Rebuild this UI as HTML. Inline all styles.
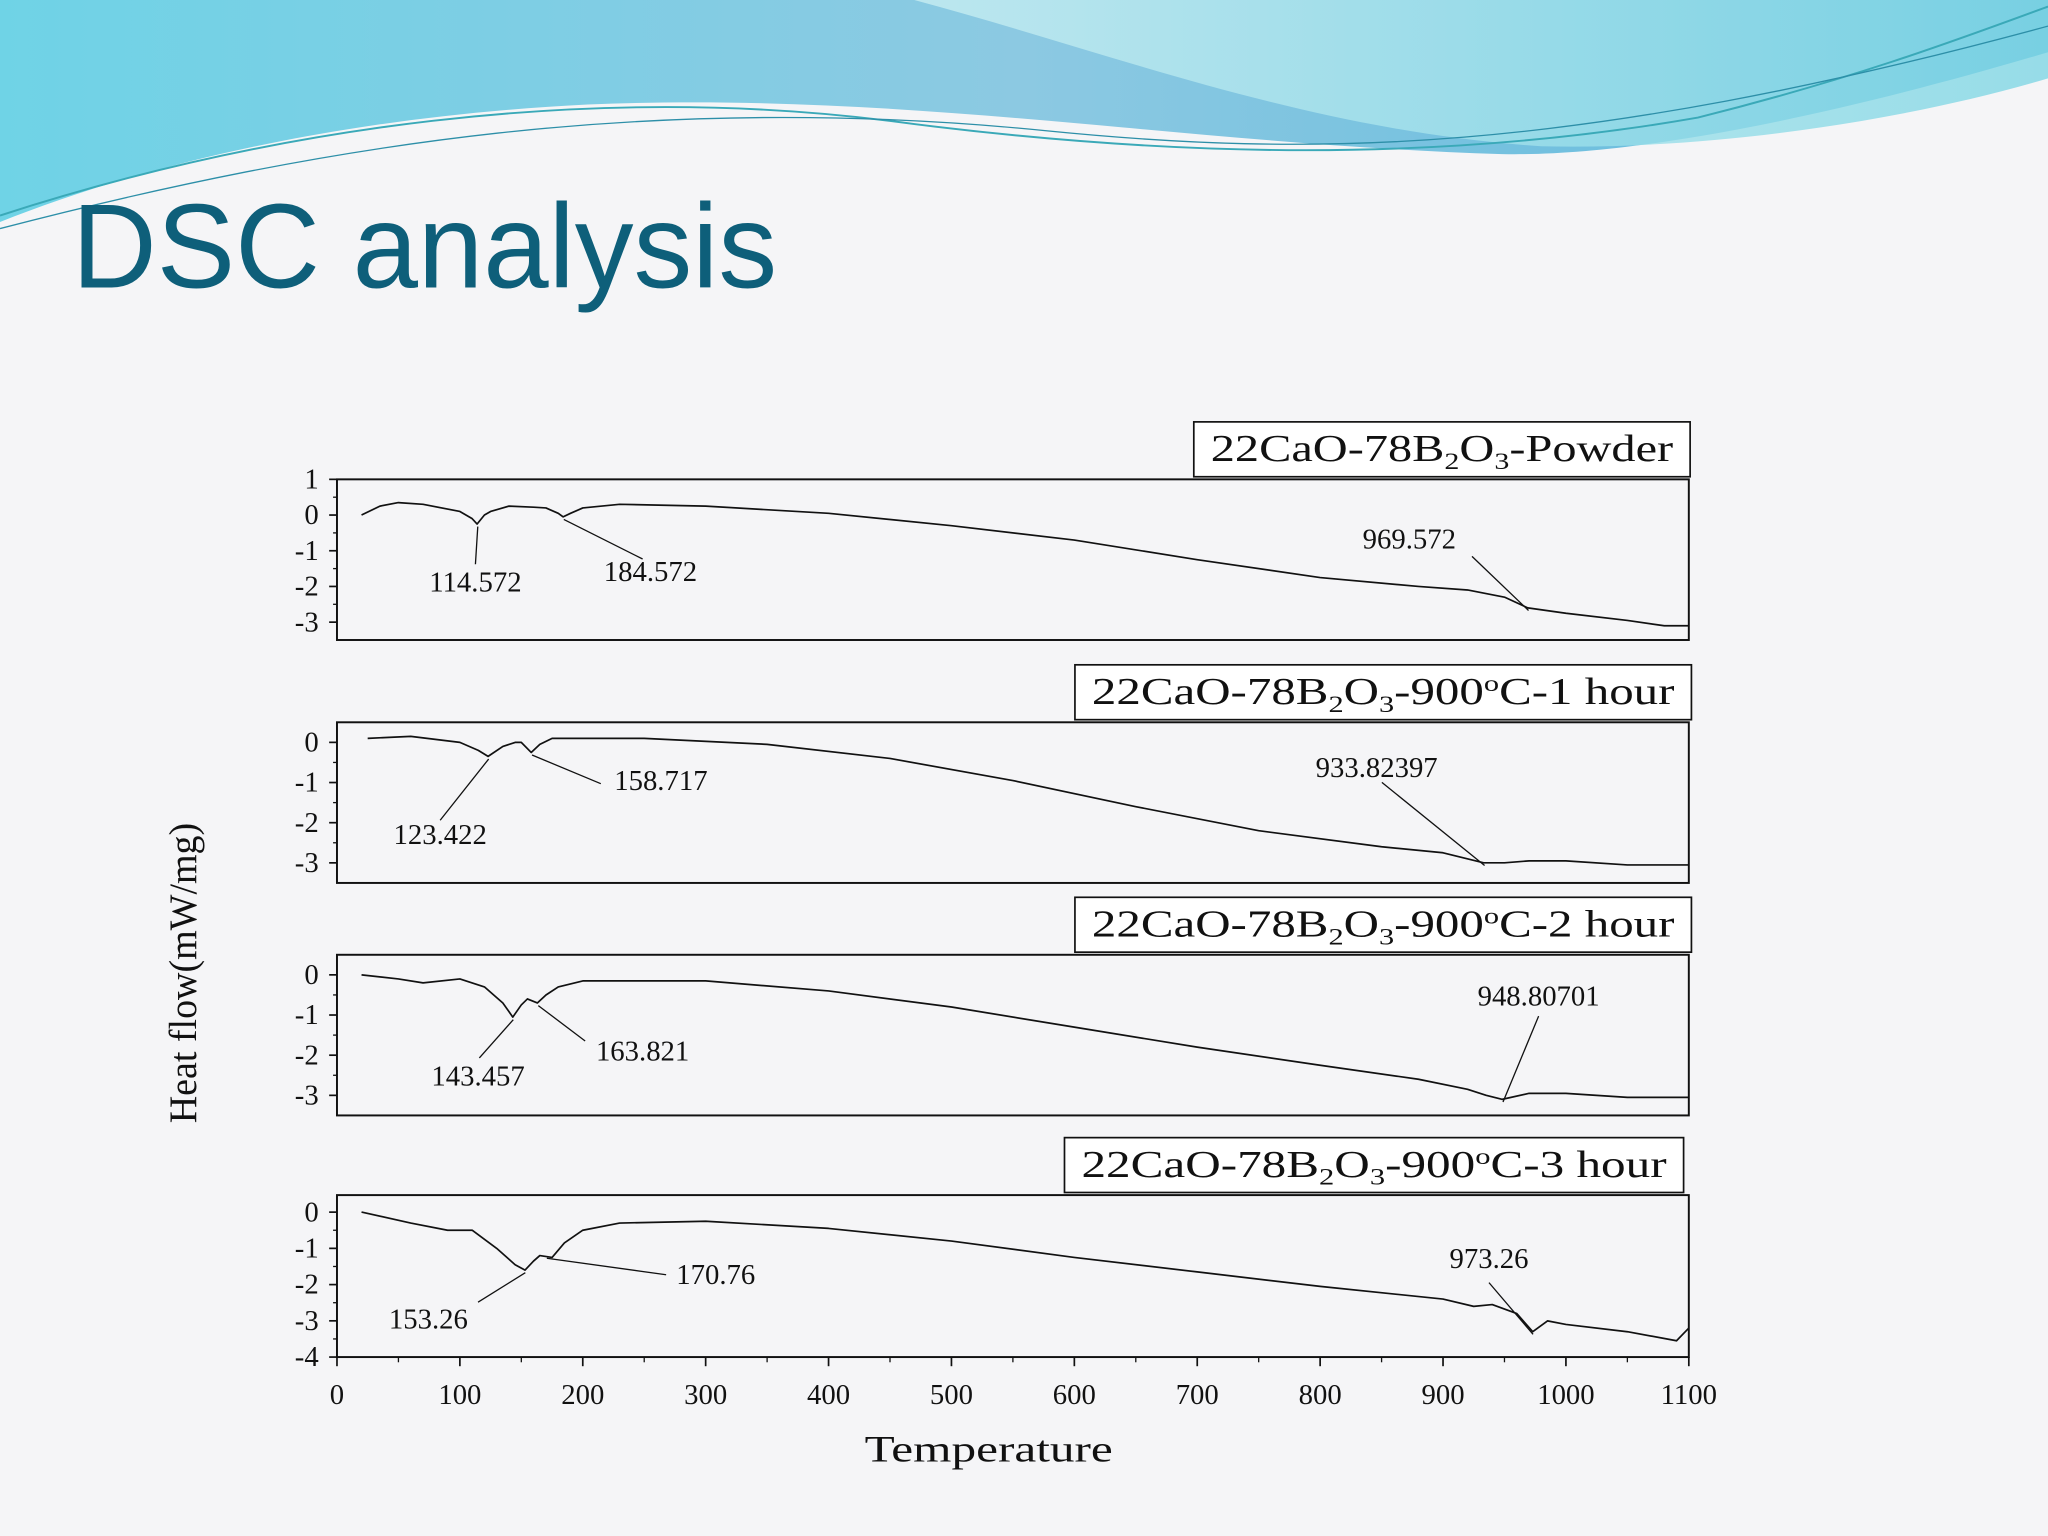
<!DOCTYPE html>
<html><head><meta charset="utf-8"><style>
html,body{margin:0;padding:0;background:#f5f5f7;}
svg{display:block}
text{font-family:"Liberation Serif",serif;fill:#111}
</style></head><body>
<svg id="root" width="2048" height="1536" viewBox="0 0 1568 1176" xmlns="http://www.w3.org/2000/svg">
<defs>
<linearGradient id="wg" x1="0" y1="0" x2="1" y2="0">
<stop offset="0" stop-color="#6fd3e6"/><stop offset="0.5" stop-color="#8cc9e2"/><stop offset="1" stop-color="#5bb8dc"/>
</linearGradient>
<linearGradient id="wg2" x1="0" y1="0" x2="1" y2="0">
<stop offset="0" stop-color="#c8eef2"/><stop offset="1" stop-color="#7fd6e4"/>
</linearGradient>
</defs>
<rect width="1568" height="1176" fill="#f5f5f7"/>
<g>
<path d="M0 0 H1568 V40 C1400 90 1250 120 1150 118 C900 110 700 70 450 80 C250 90 100 130 0 170 Z" fill="url(#wg)"/>
<path d="M700 0 H1568 V60 C1450 95 1300 115 1180 112 C1000 100 850 40 700 0 Z" fill="url(#wg2)" opacity="0.8"/>
<path d="M0 165 C200 100 450 60 700 95 C900 120 1100 125 1300 90 C1420 60 1500 30 1568 5" stroke="#3aa9b8" stroke-width="1.5" fill="none"/>
<path d="M0 175 C250 110 500 70 800 100 C1000 120 1200 120 1568 20" stroke="#2d8fa8" stroke-width="1" fill="none"/>
</g>
<text x="55" y="220" font-size="92" textLength="540" lengthAdjust="spacingAndGlyphs" style="font-family:'Liberation Sans',sans-serif;fill:#0e5f7a">DSC analysis</text>
<g id="chart"></g>
<text transform="translate(150,745) rotate(-90)" text-anchor="middle" font-size="30" textLength="230" lengthAdjust="spacingAndGlyphs">Heat flow(mW/mg)</text>
<text x="757" y="1119" text-anchor="middle" font-size="28" textLength="190" lengthAdjust="spacingAndGlyphs">Temperature</text>
</svg>
<script>
const xTicks=[0,100,200,300,400,500,600,700,800,900,1000,1100];
const p1T=[20,35,50,70,100,110,114,120,125,140,160,170,180,184,190,200,230,300,400,500,600,700,800,880,920,950,969,1000,1050,1080,1100];
const p1V=[0,0.25,0.35,0.3,0.1,-0.1,-0.25,0,0.1,0.25,0.22,0.2,0.05,-0.05,0.05,0.2,0.3,0.25,0.05,-0.3,-0.7,-1.25,-1.75,-2.0,-2.1,-2.3,-2.6,-2.75,-2.95,-3.1,-3.1];
const p2T=[25,60,100,115,123,135,145,150,158,165,175,250,350,450,550,650,750,850,900,933,950,970,1000,1050,1100];
const p2V=[0.1,0.15,0,-0.2,-0.35,-0.1,0,0,-0.25,-0.05,0.1,0.1,-0.05,-0.4,-0.95,-1.6,-2.2,-2.6,-2.75,-3.0,-3.0,-2.95,-2.95,-3.05,-3.05];
const p3T=[20,50,70,100,120,135,143,150,155,163,170,180,200,300,400,500,600,700,800,880,920,935,948,970,1000,1050,1100];
const p3V=[0,-0.1,-0.2,-0.1,-0.3,-0.7,-1.05,-0.75,-0.6,-0.7,-0.5,-0.3,-0.15,-0.15,-0.4,-0.8,-1.3,-1.8,-2.25,-2.6,-2.85,-3.0,-3.1,-2.95,-2.95,-3.05,-3.05];
const p4T=[20,60,90,110,130,145,153,160,165,175,185,200,230,300,400,500,600,700,800,900,925,940,960,973,985,1000,1050,1090,1100];
const p4V=[0,-0.3,-0.5,-0.5,-1.0,-1.45,-1.6,-1.35,-1.2,-1.25,-0.85,-0.5,-0.3,-0.25,-0.45,-0.8,-1.25,-1.65,-2.05,-2.4,-2.6,-2.55,-2.8,-3.3,-3.0,-3.1,-3.3,-3.55,-3.2];
const yTicks1=[1,0,-1,-2,-3];const yTicks2=[0,-1,-2,-3];const yTicks4=[0,-1,-2,-3,-4];
const NS="http://www.w3.org/2000/svg";
const g=document.getElementById('chart');
const X0=258,X1=1293;
const xs=t=>X0+(t-0)*(X1-X0)/1100;
function mk(tag,attrs,parent){const e=document.createElementNS(NS,tag);for(const k in attrs)e.setAttribute(k,attrs[k]);(parent||g).appendChild(e);return e;}
const panels=[
{top:367,bot:490,vmax:1,vmin:-3.5,T:p1T,V:p1V,ticks:yTicks1,title:'Powder',bx:914,bw:380,
 ann:[[114.572,-0.25,364,432,364,453,'114.572'],[184.572,-0.05,492,428,498,445,'184.572'],[969.572,-2.6,1127,426,1079,420,'969.572']]},
{top:553,bot:676,vmax:0.5,vmin:-3.5,T:p2T,V:p2V,ticks:yTicks2,title:'-900°C-1 hour',bx:823,bw:472,
 ann:[[123.422,-0.35,337,628,337,646,'123.422'],[158.717,-0.25,460,600,506,605,'158.717'],[933.82,-3.0,1058,599,1054,595,'933.82397']]},
{top:731,bot:854,vmax:0.5,vmin:-3.5,T:p3T,V:p3V,ticks:yTicks2,title:'-900°C-2 hour',bx:823,bw:472,
 ann:[[143.457,-1.05,367,810,366,831,'143.457'],[163.821,-0.7,448,797,492,812,'163.821'],[948.8,-3.1,1178,778,1178,770,'948.80701']]},
{top:915,bot:1039,vmax:0.47,vmin:-4,T:p4T,V:p4V,ticks:yTicks4,title:'-900°C-3 hour',bx:815,bw:474,
 ann:[[153.26,-1.6,366,997,328,1017,'153.26'],[170.76,-1.2,510,976,548,983,'170.76'],[973.26,-3.3,1140,982,1140,971,'973.26']]}
];
panels.forEach((p,i)=>{
 const ys=v=>p.top+(p.vmax-v)*(p.bot-p.top)/(p.vmax-p.vmin);
 const pg=mk('g',{});
 
 
 const fr=mk('rect',{x:X0,y:p.top,width:X1-X0,height:p.bot-p.top,fill:'none',stroke:'#111','stroke-width':1.5},pg);
 
 
 p.ticks.forEach((v,j)=>{
  mk('line',{x1:X0-6,x2:X0,y1:ys(v),y2:ys(v),stroke:'#111','stroke-width':1.3},pg);
  if(j<p.ticks.length-1)mk('line',{x1:X0-3,x2:X0,y1:ys(v-0.5),y2:ys(v-0.5),stroke:'#111','stroke-width':1},pg);
  const t=mk('text',{x:X0-14,y:ys(v)+7,'text-anchor':'end','font-size':22},pg);t.textContent=v;
  
  
 });
 const d=p.T.map((t,k)=>(k?'L':'M')+xs(t).toFixed(1)+' '+ys(p.V[k]).toFixed(1)).join(' ');
 const path=mk('path',{d:d,fill:'none',stroke:'#111','stroke-width':1.3,'stroke-linejoin':'round'},pg);
 
 
 p.ann.forEach(a=>{
  const lx=xs(a[0]),ly=ys(a[1]);
  mk('line',{x1:lx,y1:ly+2,x2:a[2],y2:a[3],stroke:'#111','stroke-width':1},pg);
  const t=mk('text',{x:a[4],y:a[5],'text-anchor':'middle','font-size':22},pg);t.textContent=a[6];
  
  
 });
 const bh=42,by=p.top-bh-2;
 mk('rect',{x:p.bx,y:by,width:p.bw,height:bh,fill:'#fff',stroke:'#111','stroke-width':1.3},pg);
 const tt=mk('text',{x:p.bx+p.bw/2,y:by+30,'text-anchor':'middle','font-size':29,textLength:p.bw-26,lengthAdjust:'spacingAndGlyphs'},pg);
 
 
 tt.innerHTML='22CaO-78B<tspan font-size="18" dy="6">2</tspan><tspan dy="-6">O</tspan><tspan font-size="18" dy="6">3</tspan><tspan dy="-6">'+(p.title=='Powder'?'-Powder':p.title.replace('°','<tspan font-size="18" dy="-10">o</tspan><tspan dy="10">')+'</tspan>')+'</tspan>';
 if(i===3){
  xTicks.forEach(t=>{
   mk('line',{x1:xs(t),x2:xs(t),y1:p.bot,y2:p.bot+7,stroke:'#111','stroke-width':1.3},pg);
   if(t<1100)mk('line',{x1:xs(t+50),x2:xs(t+50),y1:p.bot,y2:p.bot+4,stroke:'#111','stroke-width':1},pg);
   const l=mk('text',{x:xs(t),y:1075,'text-anchor':'middle','font-size':22},pg);l.textContent=t;
   
   
  });
 }
});
</script>
</body></html>
